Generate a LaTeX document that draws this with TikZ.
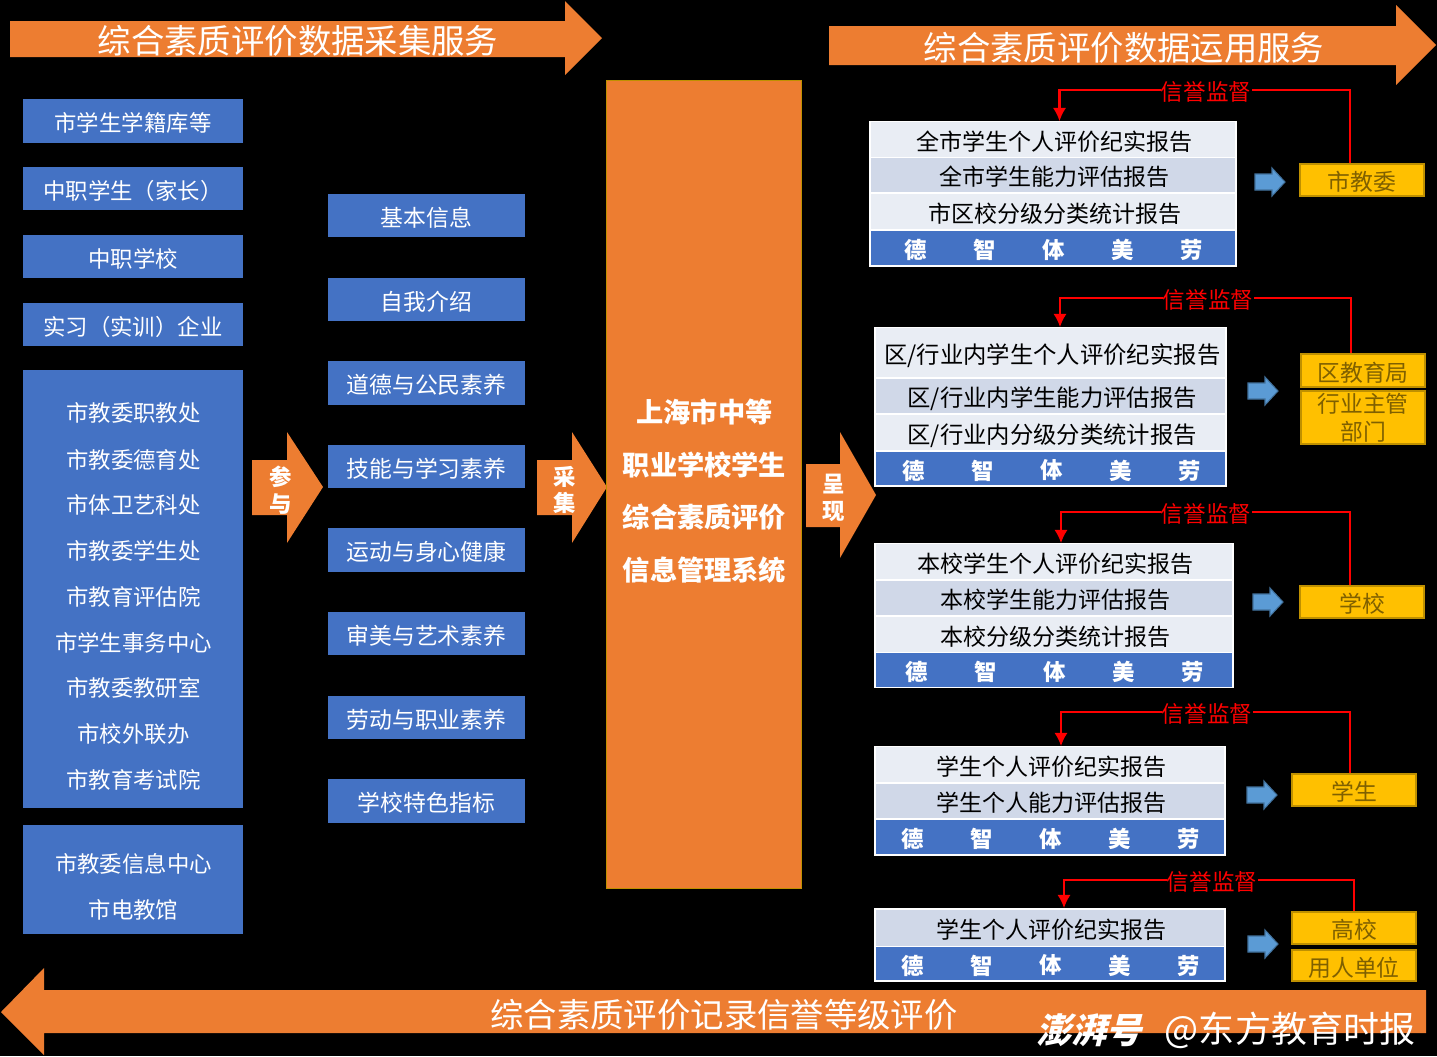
\documentclass[tikz,border=0pt]{standalone}
\usepackage{fontspec}
\usetikzlibrary{arrows.meta}
\setmainfont{Noto Sans CJK SC}
\newfontfamily\stampfont[FakeSlant=0.25]{Noto Sans CJK SC}
\definecolor{barorange}{HTML}{ED7D31}
\definecolor{boxblue}{HTML}{4472C4}
\definecolor{rowlight}{HTML}{E9EDF4}
\definecolor{rowdark}{HTML}{D0D8E8}
\definecolor{gold}{HTML}{FFC000}
\definecolor{golddark}{HTML}{BF9000}
\definecolor{goldtext}{HTML}{7F6000}
\definecolor{arrowblue}{HTML}{5B9BD5}
\definecolor{arrowline}{HTML}{41719C}
\tikzset{
lowtext/.style={text height=13.5pt,text depth=1.5pt},
bluebox/.style={fill=boxblue,text=white,inner sep=0pt,lowtext,font=\fontsize{12.75}{15}\selectfont},
rowbox/.style={inner sep=0pt,text=black,lowtext,font=\fontsize{13.1}{15}\selectfont,execute at begin node=\hspace{2pt}},
orgbox/.style={draw=golddark,line width=1.1pt,fill=gold,text=goldtext,inner sep=0pt,align=center,font=\fontsize{13}{16}\selectfont},
tablebox/.style={draw=white,line width=1pt,fill=white,inner sep=0pt},
bartext/.style={text=white,font=\fontsize{19}{22}\selectfont},
arrowtext/.style={text=white,font=\fontsize{12.75}{15}\selectfont\bfseries},
watchlabel/.style={fill=black,text=red,inner sep=0pt,text height=13pt,text depth=1pt,font=\fontsize{12.85}{15}\selectfont},
watchline/.style={draw=red,line width=1.2pt},
}
\begin{document}
\begin{tikzpicture}[x=0.02cm,y=-0.02cm]
\useasboundingbox (0,0) rectangle (1437,1056);
\fill[black] (0,0) rectangle (1437,1056);
%long bars
\fill[barorange] (10,21) -- (565,21) -- (565,1) -- (602,38) -- (565,75) -- (565,57) -- (10,57) -- cycle;
\node[bartext] (collect) at (298,41) {综合素质评价数据采集服务};
\fill[barorange] (829,26) -- (1396,26) -- (1396,5) -- (1436,45) -- (1396,85) -- (1396,65) -- (829,65) -- cycle;
\node[bartext] (apply) at (1124,48) {综合素质评价数据运用服务};
\fill[barorange] (1426,990) -- (44,990) -- (44,968) -- (1,1012) -- (44,1055) -- (44,1033) -- (1426,1033) -- cycle;
\node[bartext] (record) at (724,1015) {综合素质评价记录信誉等级评价};
%left column
\foreach \n/\y/\h/\lab in {a/121/44/市学生学籍库等,b/188.5/43/中职学生（家长）,c/256.5/43/中职学校,d/324.5/43/实习（实训）企业}{
\node[bluebox,minimum width=220*0.02cm,minimum height=\h*0.02cm] (\n) at (133,\y) {\lab};
}
\node[bluebox,minimum width=220*0.02cm,minimum height=438*0.02cm] (office) at (133,589) {};
\node[bluebox,minimum width=220*0.02cm,minimum height=109*0.02cm] (centre) at (133,879.5) {};
\foreach \y/\lab in {413/市教委职教处,459.5/市教委德育处,505/市体卫艺科处,551/市教委学生处,597/市教育评估院,643/市学生事务中心,688/市教委教研室,734/市校外联办,780/市教育考试院,864/市教委信息中心,910/市电教馆}{
\node[text=white,font=\fontsize{12.75}{15}\selectfont] at (133.5,\y) {\lab};
}
%middle column
\foreach \n/\y/\lab in {1/215.5/基本信息,2/299.5/自我介绍,3/383/道德与公民素养,4/466.5/技能与学习素养,5/550/运动与身心健康,6/633.5/审美与艺术素养,7/717.5/劳动与职业素养,8/801/学校特色指标}{
\node[bluebox,font=\fontsize{13}{15}\selectfont,minimum width=197*0.02cm,minimum height=43.5*0.02cm] (m\n) at (426.5,\y) {\lab};
}
%block arrows
\fill[barorange] (252,460) -- (287,460) -- (287,432) -- (323,487) -- (287,543) -- (287,515) -- (252,515) -- cycle;
\node[arrowtext,align=center] (join) at (281,490) {参\\与};
\fill[barorange] (537,460) -- (572,460) -- (572,432) -- (607,487) -- (572,543) -- (572,515) -- (537,515) -- cycle;
\node[arrowtext,align=center] (gather) at (565,490) {采\\集};
\fill[barorange] (806,464) -- (840,464) -- (840,432) -- (876,495) -- (840,558) -- (840,527) -- (806,527) -- cycle;
\node[arrowtext,align=center] (show) at (834,498) {呈\\现};
%central system
\node[draw=golddark,line width=1pt,fill=barorange,inner sep=0pt,minimum width=195*0.02cm,minimum height=808*0.02cm] (system) at (704,484.5) {};
\foreach \y/\lab in {412/上海市中等,465/职业学校学生,517/综合素质评价,570/信息管理系统}{
\node[text=white,font=\fontsize{15.5}{18}\selectfont\bfseries] at (704.5,\y) {\lab};
}
%report tables
\node[tablebox,minimum width=366*0.02cm,minimum height=144*0.02cm] (t1) at (1053,194) {};
\node[tablebox,minimum width=351*0.02cm,minimum height=158*0.02cm] (t2) at (1050.5,407) {};
\node[tablebox,minimum width=358*0.02cm,minimum height=143*0.02cm] (t3) at (1054,615.5) {};
\node[tablebox,minimum width=350*0.02cm,minimum height=108*0.02cm] (t4) at (1050,801) {};
\node[tablebox,minimum width=350*0.02cm,minimum height=72*0.02cm] (t5) at (1050,945) {};
\foreach \y/\h/\c/\lab in {139.5/35/rowlight/全市学生个人评价纪实报告,175/34/rowdark/全市学生能力评估报告,211.5/35/rowlight/市区校分级分类统计报告}{
\node[rowbox,fill=\c,minimum width=364*0.02cm,minimum height=\h*0.02cm] at (1053,\y) {\lab};
}
\foreach \y/\h/\c/\lab in {352.5/49/rowlight/{区/行业内学生个人评价纪实报告},396/34/rowdark/{区/行业内学生能力评估报告},432.5/35/rowlight/{区/行业内分级分类统计报告}}{
\node[rowbox,font=\fontsize{13.3}{15}\selectfont,fill=\c,minimum width=349*0.02cm,minimum height=\h*0.02cm] at (1050.5,\y) {\lab};
}
\foreach \y/\h/\c/\lab in {561.5/35/rowlight/本校学生个人评价纪实报告,598/34/rowdark/本校学生能力评估报告,634.5/35/rowlight/本校分级分类统计报告}{
\node[rowbox,fill=\c,minimum width=356*0.02cm,minimum height=\h*0.02cm] at (1054,\y) {\lab};
}
\foreach \y/\h/\c/\lab in {764.5/35/rowlight/学生个人评价纪实报告,801/34/rowdark/学生个人能力评估报告}{
\node[rowbox,fill=\c,minimum width=348*0.02cm,minimum height=\h*0.02cm] at (1050,\y) {\lab};
}
\node[rowbox,fill=rowdark,minimum width=348*0.02cm,minimum height=36*0.02cm] at (1050,928) {学生个人评价纪实报告};
%five virtues row of each table
\foreach \cx/\cy/\w/\h in {1053/248/364/34,1050.5/468.5/349/33,1054/670/356/34,1050/837/348/34,1050/963.5/348/33}{
\node[fill=boxblue,inner sep=0pt,minimum width=\w*0.02cm,minimum height=\h*0.02cm] at (\cx,\cy) {};
\foreach \dx/\lab in {-138/德,-69/智,0/体,69/美,138/劳}{
\node[text=white,font=\fontsize{12.75}{15}\selectfont\bfseries] at (\cx+\dx+1,\cy+2) {\lab};
}
}
%receivers
\node[orgbox,lowtext,minimum width=124*0.02cm,minimum height=32*0.02cm] (o1) at (1362,180) {市教委};
\node[orgbox,lowtext,minimum width=124*0.02cm,minimum height=33*0.02cm] (o2) at (1363,370.5) {区教育局};
\node[orgbox,minimum width=124*0.02cm,minimum height=53*0.02cm] (o2b) at (1363,417.5) {行业主管\\部门};
\node[orgbox,lowtext,minimum width=124*0.02cm,minimum height=32*0.02cm] (o3) at (1362,602) {学校};
\node[orgbox,lowtext,minimum width=124*0.02cm,minimum height=32*0.02cm] (o4) at (1354,790) {学生};
\node[orgbox,lowtext,minimum width=124*0.02cm,minimum height=32*0.02cm] (o5) at (1354,928) {高校};
\node[orgbox,lowtext,minimum width=124*0.02cm,minimum height=31*0.02cm] (o5b) at (1354,965.5) {用人单位};
%small arrows
\foreach \x/\y in {1255/182,1248/391,1253/602,1247/795,1248/944}{
\draw[draw=arrowline,fill=arrowblue,line width=0.6pt] (\x,\y-8) -- (\x+17,\y-8) -- (\x+17,\y-14) -- (\x+30,\y) -- (\x+17,\y+14) -- (\x+17,\y+8) -- (\x,\y+8) -- cycle;
}
%credit supervision loops
\node[watchlabel] (w1) at (1206,90) {信誉监督};
\node[watchlabel] (w2) at (1208,298) {信誉监督};
\node[watchlabel] (w3) at (1206,512) {信誉监督};
\node[watchlabel] (w4) at (1207,712) {信誉监督};
\node[watchlabel] (w5) at (1212,880) {信誉监督};
\foreach \n/\ox/\tx in {1/-0.24/0.13,2/-0.24/0.19,3/-0.24/0.14,4/-0.08/0.22,5/0/0.28}{
\draw[watchline] ([xshift=\ox cm]o\n.north) |- (w\n.east);
\draw[watchline,-{Latex[length=7.5pt,width=7.5pt]}] (w\n.west) -| ([xshift=\tx cm]t\n.north);
}
%stamp
\node[text=white,font=\fontsize{20}{24}\selectfont\stampfont\bfseries] (stamp) at (1089,1030) {澎湃号};
\node[text=white,font=\fontsize{20.5}{24}\selectfont] (paper) at (1290,1030) {@东方教育时报};
\end{tikzpicture}
\end{document}
